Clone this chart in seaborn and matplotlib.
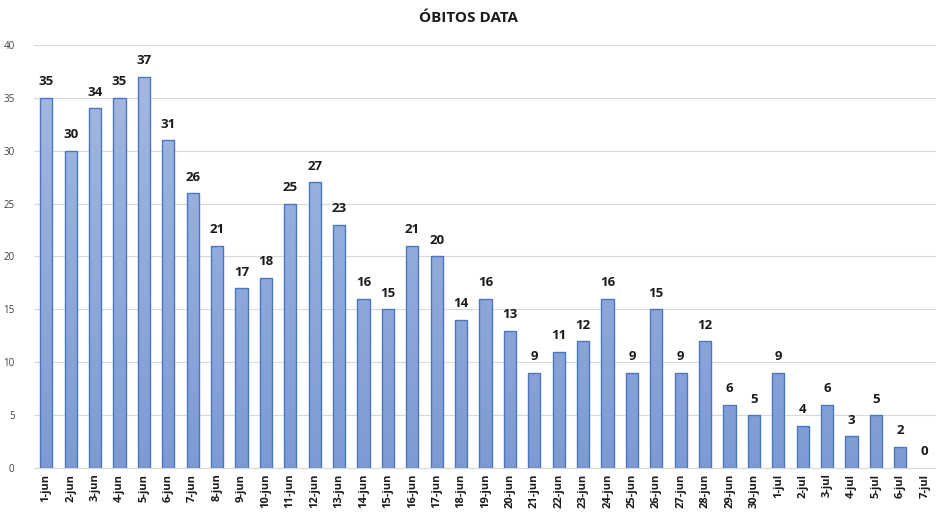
import numpy as np
import pandas as pd
import matplotlib
matplotlib.use('Agg')
import matplotlib.pyplot as plt
import seaborn as sns

# Data
dias = ['1-jun', '2-jun', '3-jun', '4-jun', '5-jun', '6-jun', '7-jun', '8-jun', '9-jun',
        '10-jun', '11-jun', '12-jun', '13-jun', '14-jun', '15-jun', '16-jun', '17-jun',
        '18-jun', '19-jun', '20-jun', '21-jun', '22-jun', '23-jun', '24-jun', '25-jun',
        '26-jun', '27-jun', '28-jun', '29-jun', '30-jun', '1-jul', '2-jul', '3-jul',
        '4-jul', '5-jul', '6-jul', '7-jul']
obitos = [35, 30, 34, 35, 37, 31, 26, 21, 17, 18, 25, 27, 23, 16, 15, 21, 20,
          14, 16, 13, 9, 11, 12, 16, 9, 15, 9, 12, 6, 5, 9, 4, 6, 3, 5, 2, 0]
y_ticks = [0, 5, 10, 15, 20, 25, 30, 35, 40]

df = pd.DataFrame({'dia': dias, 'obitos': obitos})

sns.set_style('white')
plt.rcParams['font.family'] = ['Open Sans', 'DejaVu Sans']

fig = plt.figure(figsize=(9.37, 5.18), dpi=100)
ax = fig.add_axes([34 / 937, 50 / 518, 903 / 937, 423 / 518])

sns.barplot(data=df, x='dia', y='obitos', color='#8eaadb', width=0.5,
            edgecolor='#4a76c6', linewidth=1.0, ax=ax, zorder=3)

# vertical gradient fill inside each bar
grad = np.linspace(0, 1, 256).reshape(-1, 1)
cmap = matplotlib.colors.LinearSegmentedColormap.from_list('g', ['#7d9bd3', '#a3b8e0'])
for p in ax.patches:
    x0, y0 = p.get_x(), p.get_y()
    w, h = p.get_width(), p.get_height()
    if h <= 0:
        p.set_visible(False)
        continue
    im = ax.imshow(grad, extent=[x0, x0 + w, 0, 37], origin='lower', cmap=cmap,
                   aspect='auto', zorder=3.5, interpolation='bicubic')
    im.set_clip_path(p)
    p.set_facecolor('none')
    p.set_zorder(4)

for i, v in enumerate(obitos):
    ax.text(i, v + 0.9, str(v), ha='center', va='bottom', fontsize=9.5,
            fontweight='bold', color='#1a1a1a')

ax.set_xlim(-0.5, len(dias) - 0.5)
ax.set_ylim(0, 40)
ax.set_yticks(y_ticks)
ax.set_yticklabels([str(t) for t in y_ticks], fontsize=7, color='#404040')
ax.set_xticks(range(len(dias)))
ax.set_xticklabels(dias, rotation=90, fontsize=8, fontweight='bold', color='#1a1a1a')
ax.tick_params(axis='both', length=0, pad=4)
ax.tick_params(axis='y', pad=14)
ax.yaxis.grid(True, color='#d9d9d9', linewidth=0.8, zorder=0)
ax.set_axisbelow(True)
ax.set_xlabel('')
ax.set_ylabel('')
for s in ['top', 'right', 'left']:
    ax.spines[s].set_visible(False)
ax.spines['bottom'].set_color('#d9d9d9')
ax.spines['bottom'].set_linewidth(0.8)

fig.text(0.5, 1 - 18 / 518, 'ÓBITOS DATA', ha='center', va='center',
         fontsize=11, fontweight='bold', color='#1a1a1a')

fig.savefig('out.png', dpi=100)
